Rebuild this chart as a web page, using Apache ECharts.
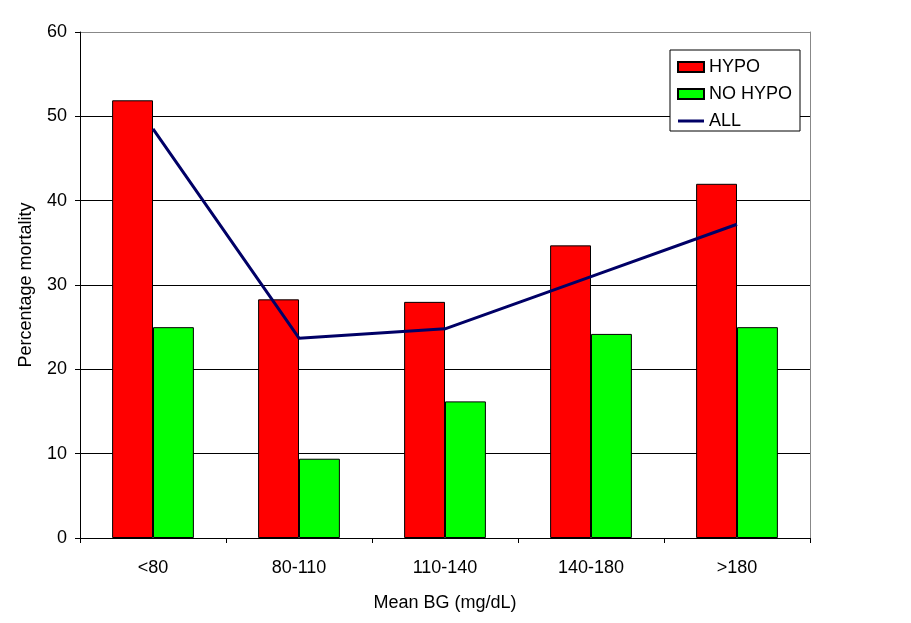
<!DOCTYPE html>
<html>
<head>
<meta charset="utf-8">
<script src="https://cdn.jsdelivr.net/npm/echarts@6/dist/echarts.min.js"></script>
<style>
  html, body { margin: 0; padding: 0; background: #fff; }
  #chart { width: 911px; height: 623px; }
</style>
</head>
<body>
<div id="chart"></div>
<script>
// data
var categories = ['<80', '80-110', '110-140', '140-180', '>180'];
var hypo = [51.9, 28.3, 28.0, 34.7, 42.0];
var noHypo = [25.0, 9.4, 16.2, 24.2, 25.0];
var all = [48.5, 23.7, 24.8, 31.0, 37.2];

var font = '"Liberation Sans", Arial, sans-serif';
var chart = echarts.init(document.getElementById('chart'));

var options = {
    animation: false,
    backgroundColor: '#fff',
    textStyle: { fontFamily: font },
    grid: { left: 80, right: 101, top: 32, bottom: 85 },
    legend: {
        orient: 'vertical',
        left: 670,
        top: 50,
        padding: [8, 8, 1, 7],
        backgroundColor: '#fff',
        borderColor: '#000',
        borderWidth: 1,
        itemWidth: 26,
        itemHeight: 10,
        itemGap: 9,
        symbolKeepAspect: true,
        textStyle: { fontSize: 18, color: '#000', fontFamily: font },
        data: [
            { name: 'HYPO', icon: 'rect' },
            { name: 'NO HYPO', icon: 'rect' },
            { name: 'ALL', icon: 'path://M0,0 L26,0 L26,3 L0,3 Z' }
        ]
    },
    xAxis: [{
        type: 'category',
        data: categories,
        axisLine: { show: true, lineStyle: { color: '#000', width: 1 } },
        axisTick: { show: true, length: 5, lineStyle: { color: '#000' } },
        axisLabel: { fontSize: 18, color: '#000', margin: 21, fontFamily: font },
        name: 'Mean BG (mg/dL)',
        nameLocation: 'middle',
        nameGap: 56,
        nameTextStyle: { fontSize: 18, color: '#000', fontFamily: font }
    }],
    yAxis: [{
        type: 'value',
        min: 0,
        max: 60,
        interval: 10,
        axisLine: { show: true, lineStyle: { color: '#000', width: 1 } },
        axisTick: { show: true, length: 5, lineStyle: { color: '#000' } },
        axisLabel: { fontSize: 18, color: '#000', margin: 13, fontFamily: font },
        splitLine: {
            show: true,
            lineStyle: { color: ['#000', '#000', '#000', '#000', '#000', '#000', '#888'], width: 1 }
        },
        name: 'Percentage mortality',
        nameLocation: 'middle',
        nameGap: 45,
        nameTextStyle: { fontSize: 18, color: '#000', fontFamily: font }
    }, {
        type: 'value',
        position: 'right',
        min: 0,
        max: 60,
        interval: 10,
        axisLine: { show: true, lineStyle: { color: '#888', width: 1 } },
        axisTick: { show: false },
        axisLabel: { show: false },
        splitLine: { show: false }
    }],
    series: [{
        name: 'HYPO',
        type: 'bar',
        data: hypo,
        barGap: '0%',
        barCategoryGap: '44%',
        itemStyle: { color: '#ff0000', borderColor: '#000', borderWidth: 1 }
    }, {
        name: 'NO HYPO',
        type: 'bar',
        data: noHypo,
        barGap: '0%',
        barCategoryGap: '44%',
        itemStyle: { color: '#00ff00', borderColor: '#000', borderWidth: 1 }
    }, {
        name: 'ALL',
        type: 'line',
        data: all,
        symbol: 'none',
        z: 5,
        lineStyle: { color: '#000066', width: 3 },
        itemStyle: { color: '#000066' }
    }]
};
chart.setOption(options);
</script>
</body>
</html>
